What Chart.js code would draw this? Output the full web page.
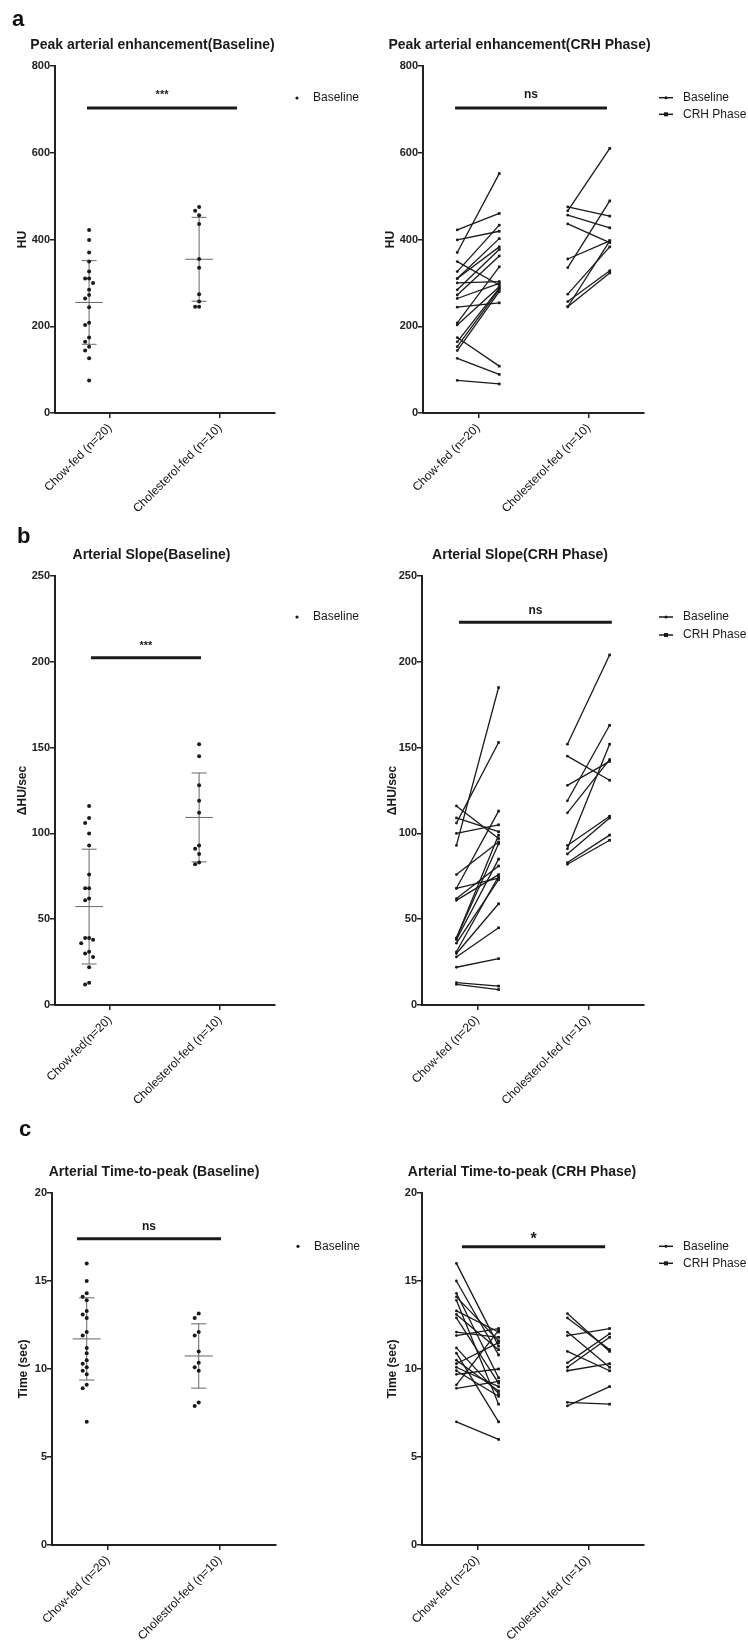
<!DOCTYPE html>
<html>
<head>
<meta charset="utf-8">
<script src="https://cdn.jsdelivr.net/npm/chart.js@4.4.1/dist/chart.umd.min.js"></script>
<style>
  body { margin: 0; background: #fff; width: 748px; height: 1644px; position: relative; overflow: hidden; }
  canvas { position: absolute; }
  .letter { position: absolute; font: bold 22px/22px "Liberation Sans", Arial, sans-serif; color: #111; z-index: 2; }
</style>
</head>
<body>
<div class="letter" style="left:12px;top:8px">a</div>
<div class="letter" style="left:17px;top:525px">b</div>
<div class="letter" style="left:19px;top:1118px">c</div>

<canvas id="aL" width="374" height="520" style="left:0;top:0"></canvas>
<canvas id="aR" width="374" height="520" style="left:374px;top:0"></canvas>
<canvas id="bL" width="374" height="590" style="left:0;top:520px"></canvas>
<canvas id="bR" width="374" height="590" style="left:374px;top:520px"></canvas>
<canvas id="cL" width="374" height="534" style="left:0;top:1110px"></canvas>
<canvas id="cR" width="374" height="534" style="left:374px;top:1110px"></canvas>

<script>
// category labels
const catsA = ['Chow-fed (n=20)', 'Cholesterol-fed (n=10)'];
const catsBL = ['Chow-fed(n=20)', 'Cholesterol-fed (n=10)'];
const catsC = ['Chow-fed (n=20)', 'Cholestrol-fed (n=10)'];

// tick labels
const yTicksPeak = [0, 200, 400, 600, 800];
const yTicksSlope = [0, 50, 100, 150, 200, 250];
const yTicksTime = [0, 5, 10, 15, 20];

// peak arterial enhancement (HU), same mouse order in base / crh
const peakChowBase = [422, 399, 370, 349, 326, 310, 310, 300, 284, 272, 264, 244, 208, 203, 174, 164, 153, 144, 126, 75];
const peakChowCrh  = [460, 419, 552, 295, 433, 402, 383, 303, 377, 362, 299, 254, 337, 291, 108, 288, 285, 280, 89, 67];
const peakCholBase = [475, 466, 456, 436, 355, 335, 274, 257, 245, 245];
const peakCholCrh  = [454, 610, 427, 393, 397, 489, 383, 328, 323, 397];

// arterial slope (dHU/sec)
const slopeChowBase = [116, 109, 106, 100, 93, 76, 68, 68, 62, 61, 39, 39, 38, 36, 31, 30, 28, 22, 13, 12];
const slopeChowCrh  = [97, 101, 153, 105, 185, 95, 113, 74, 81, 76, 99, 94, 85, 73, 75, 59, 45, 27, 11, 9];
const slopeCholBase = [152, 145, 128, 119, 112, 93, 91, 88, 83, 82];
const slopeCholCrh  = [204, 131, 142, 163, 143, 110, 152, 109, 99, 96];

// time to peak (sec)
const ttpChowBase = [16.0, 15.0, 14.3, 14.1, 13.9, 13.3, 13.1, 12.9, 12.1, 11.9, 11.2, 10.9, 10.5, 10.3, 10.1, 9.9, 9.7, 9.1, 8.9, 7.0];
const ttpChowCrh  = [11.3, 10.8, 9.5, 11.6, 8.0, 12.1, 11.1, 9.2, 11.8, 12.3, 8.6, 7.0, 8.75, 11.5, 9.0, 8.45, 10.0, 12.2, 9.3, 6.0];
const ttpCholBase = [13.15, 12.9, 12.1, 11.9, 11.0, 10.35, 10.1, 9.9, 8.1, 7.9];
const ttpCholCrh  = [11.0, 11.1, 10.1, 12.3, 9.9, 12.0, 11.8, 10.3, 8.0, 9.0];

const FONT = '"Liberation Sans", Arial, sans-serif';
const INK = '#1a1a1a';
Chart.defaults.font.family = FONT;
Chart.defaults.color = '#222';

const mean = a => a.reduce((s, v) => s + v, 0) / a.length;
const sd = a => {
  const m = mean(a);
  return Math.sqrt(a.reduce((s, v) => s + (v - m) ** 2, 0) / (a.length - 1));
};

// spread close points sideways like a column scatter
function spread(values, center, step, thr) {
  const placed = [];
  return values.map(v => {
    const near = placed.filter(p => Math.abs(p.y - v) < thr).map(p => p.k);
    const k = [0, -1, 1, -2, 2].find(c => !near.includes(c));
    placed.push({ y: v, k });
    return { x: center + k * step, y: v };
  });
}

function errBars(vals, c) {
  const m = mean(vals), s = sd(vals);
  const seg = (x1, y1, x2, y2) => ({
    data: [{ x: x1, y: y1 }, { x: x2, y: y2 }],
    showLine: true, borderColor: '#666', borderWidth: 1, pointRadius: 0, order: 2
  });
  return [
    seg(c - 0.125, m, c + 0.125, m),
    seg(c - 0.068, m + s, c + 0.068, m + s),
    seg(c - 0.068, m - s, c + 0.068, m - s),
    seg(c, m - s, c, m + s)
  ];
}

function dotDatasets(groups, yMax) {
  const thr = yMax * 0.013;
  const pts = [];
  const bars = [];
  groups.forEach((g, i) => {
    const c = i + 1 - 0.19;
    pts.push(...spread(g, c, 0.036, thr));
    bars.push(...errBars(g, c));
  });
  return [{ data: pts, pointRadius: 2, backgroundColor: INK, borderWidth: 0, order: 0 }, ...bars];
}

function pairDatasets(groups) {
  const out = [];
  groups.forEach(([base, crh], i) => {
    const c = i + 1;
    base.forEach((b, j) => {
      out.push({
        data: [{ x: c - 0.19, y: b }, { x: c + 0.19, y: crh[j] }],
        showLine: true, borderColor: INK, borderWidth: 1.3,
        pointRadius: [1.4, 1.9], pointStyle: ['circle', 'rect'],
        pointBackgroundColor: INK, pointBorderWidth: 0
      });
    });
  });
  return out;
}

const decor = {
  id: 'decor',
  afterDraw(chart, args, o) {
    const { ctx, chartArea: ca, scales: { x, y } } = chart;
    ctx.save();
    ctx.fillStyle = INK;
    ctx.strokeStyle = INK;

    ctx.font = 'bold 14px ' + FONT;
    ctx.textAlign = 'center';
    ctx.textBaseline = 'middle';
    ctx.fillText(o.title, ca.left + o.titleDx, ca.top - 20.5);

    const x1 = x.getPixelForValue(o.sig.x1);
    const x2 = x.getPixelForValue(o.sig.x2);
    const yy = y.getPixelForValue(o.sig.y);
    ctx.lineWidth = 3;
    ctx.beginPath();
    ctx.moveTo(x1, yy);
    ctx.lineTo(x2, yy);
    ctx.stroke();
    ctx.font = o.sig.font + ' ' + FONT;
    ctx.textBaseline = 'alphabetic';
    ctx.fillText(o.sig.text, (x1 + x2) / 2, yy - o.sig.gap);

    ctx.font = '12px ' + FONT;
    ctx.textAlign = 'left';
    ctx.textBaseline = 'middle';
    if (o.kind === 'dot') {
      const ly = ca.top + o.legendDy[0];
      ctx.beginPath();
      ctx.arc(ca.right + 22, ly, 1.6, 0, Math.PI * 2);
      ctx.fill();
      ctx.fillText('Baseline', ca.right + 38, ly);
    } else {
      ['Baseline', 'CRH Phase'].forEach((t, i) => {
        const ly = ca.top + o.legendDy[i];
        ctx.lineWidth = 1.5;
        ctx.beginPath();
        ctx.moveTo(ca.right + 15, ly);
        ctx.lineTo(ca.right + 29, ly);
        ctx.stroke();
        if (i === 0) {
          ctx.beginPath();
          ctx.arc(ca.right + 22, ly, 1.5, 0, Math.PI * 2);
          ctx.fill();
        } else {
          ctx.fillRect(ca.right + 20, ly - 2, 4, 4);
        }
        ctx.fillText(t, ca.right + 39, ly);
      });
    }
    ctx.restore();
  }
};

function axes(p) {
  const grid = { display: true, drawOnChartArea: false, drawTicks: true, tickLength: 5, color: '#222', lineWidth: 1.5 };
  const border = { display: true, color: '#222', width: 2 };
  return {
    x: {
      type: 'linear', min: 0.5, max: 2.5,
      afterBuildTicks: s => { s.ticks = [{ value: 1 }, { value: 2 }]; },
      afterFit: s => { s.height = p.xH; },
      ticks: {
        autoSkip: false, minRotation: 45, maxRotation: 45, padding: 3,
        font: { size: 12 }, color: '#111',
        callback: v => p.labels[v - 1]
      },
      grid, border
    },
    y: {
      type: 'linear', min: p.yTicks[0], max: p.yTicks[p.yTicks.length - 1],
      afterBuildTicks: s => { s.ticks = p.yTicks.map(v => ({ value: v })); },
      afterFit: s => { s.width = p.yW; },
      ticks: { padding: 0, font: { size: 11, weight: 'bold' }, color: '#222' },
      title: { display: true, text: p.yTitle, font: { size: 12, weight: 'bold' }, color: INK, padding: { top: p.yTitlePad, bottom: 0 } },
      grid, border
    }
  };
}

const panels = [
  {
    id: 'aL', kind: 'dot', labels: catsA, yTicks: yTicksPeak, yTitle: 'HU',
    yW: 55, yTitlePad: 15, xH: 107, padTop: 66, padRight: 99, titleDx: 97.5,
    title: 'Peak arterial enhancement(Baseline)',
    groups: [peakChowBase, peakCholBase],
    sig: { x1: 0.791, x2: 2.155, y: 703, text: '***', font: 'bold 11px', gap: 10 },
    legendDy: [32]
  },
  {
    id: 'aR', kind: 'pair', labels: catsA, yTicks: yTicksPeak, yTitle: 'HU',
    yW: 49, yTitlePad: 9, xH: 107, padTop: 66, padRight: 104, titleDx: 96.5,
    title: 'Peak arterial enhancement(CRH Phase)',
    groups: [[peakChowBase, peakChowCrh], [peakCholBase, peakCholCrh]],
    sig: { x1: 0.79, x2: 2.165, y: 703, text: 'ns', font: 'bold 12px', gap: 10 },
    legendDy: [31.7, 48.3]
  },
  {
    id: 'bL', kind: 'dot', labels: catsBL, yTicks: yTicksSlope, yTitle: '\u0394HU/sec',
    yW: 55, yTitlePad: 15, xH: 105, padTop: 56, padRight: 99, titleDx: 96.5,
    title: 'Arterial Slope(Baseline)',
    groups: [slopeChowBase, slopeCholBase],
    sig: { x1: 0.827, x2: 1.827, y: 202.4, text: '***', font: 'bold 11px', gap: 8.5 },
    legendDy: [41]
  },
  {
    id: 'bR', kind: 'pair', labels: catsA, yTicks: yTicksSlope, yTitle: '\u0394HU/sec',
    yW: 48, yTitlePad: 11, xH: 105, padTop: 56, padRight: 104, titleDx: 98,
    title: 'Arterial Slope(CRH Phase)',
    groups: [[slopeChowBase, slopeChowCrh], [slopeCholBase, slopeCholCrh]],
    sig: { x1: 0.833, x2: 2.21, y: 223, text: 'ns', font: 'bold 12px', gap: 8 },
    legendDy: [41, 59]
  },
  {
    id: 'cL', kind: 'dot', labels: catsC, yTicks: yTicksTime, yTitle: 'Time (sec)',
    yW: 52, yTitlePad: 16, xH: 99, padTop: 83, padRight: 98, titleDx: 102,
    title: 'Arterial Time-to-peak (Baseline)',
    groups: [ttpChowBase, ttpCholBase],
    sig: { x1: 0.723, x2: 2.009, y: 17.4, text: 'ns', font: 'bold 12px', gap: 9 },
    legendDy: [53.3]
  },
  {
    id: 'cR', kind: 'pair', labels: catsC, yTicks: yTicksTime, yTitle: 'Time (sec)',
    yW: 48, yTitlePad: 11, xH: 99, padTop: 83, padRight: 104, titleDx: 100,
    title: 'Arterial Time-to-peak (CRH Phase)',
    groups: [[ttpChowBase, ttpChowCrh], [ttpCholBase, ttpCholCrh]],
    sig: { x1: 0.86, x2: 2.15, y: 16.95, text: '*', font: 'bold 16px', gap: 3 },
    legendDy: [53.3, 70.3]
  }
];

panels.forEach(p => {
  const yMax = p.yTicks[p.yTicks.length - 1];
  const datasets = p.kind === 'dot' ? dotDatasets(p.groups, yMax) : pairDatasets(p.groups);
  new Chart(document.getElementById(p.id), {
    type: 'scatter',
    data: { datasets },
    options: {
      responsive: false,
      animation: false,
      devicePixelRatio: 1,
      layout: { padding: { top: p.padTop, left: 0, right: p.padRight, bottom: 0 } },
      plugins: {
        legend: { display: false },
        tooltip: { enabled: false },
        decor: { title: p.title, titleDx: p.titleDx, sig: p.sig, kind: p.kind, legendDy: p.legendDy }
      },
      scales: axes(p)
    },
    plugins: [decor]
  });
});
</script>
</body>
</html>
